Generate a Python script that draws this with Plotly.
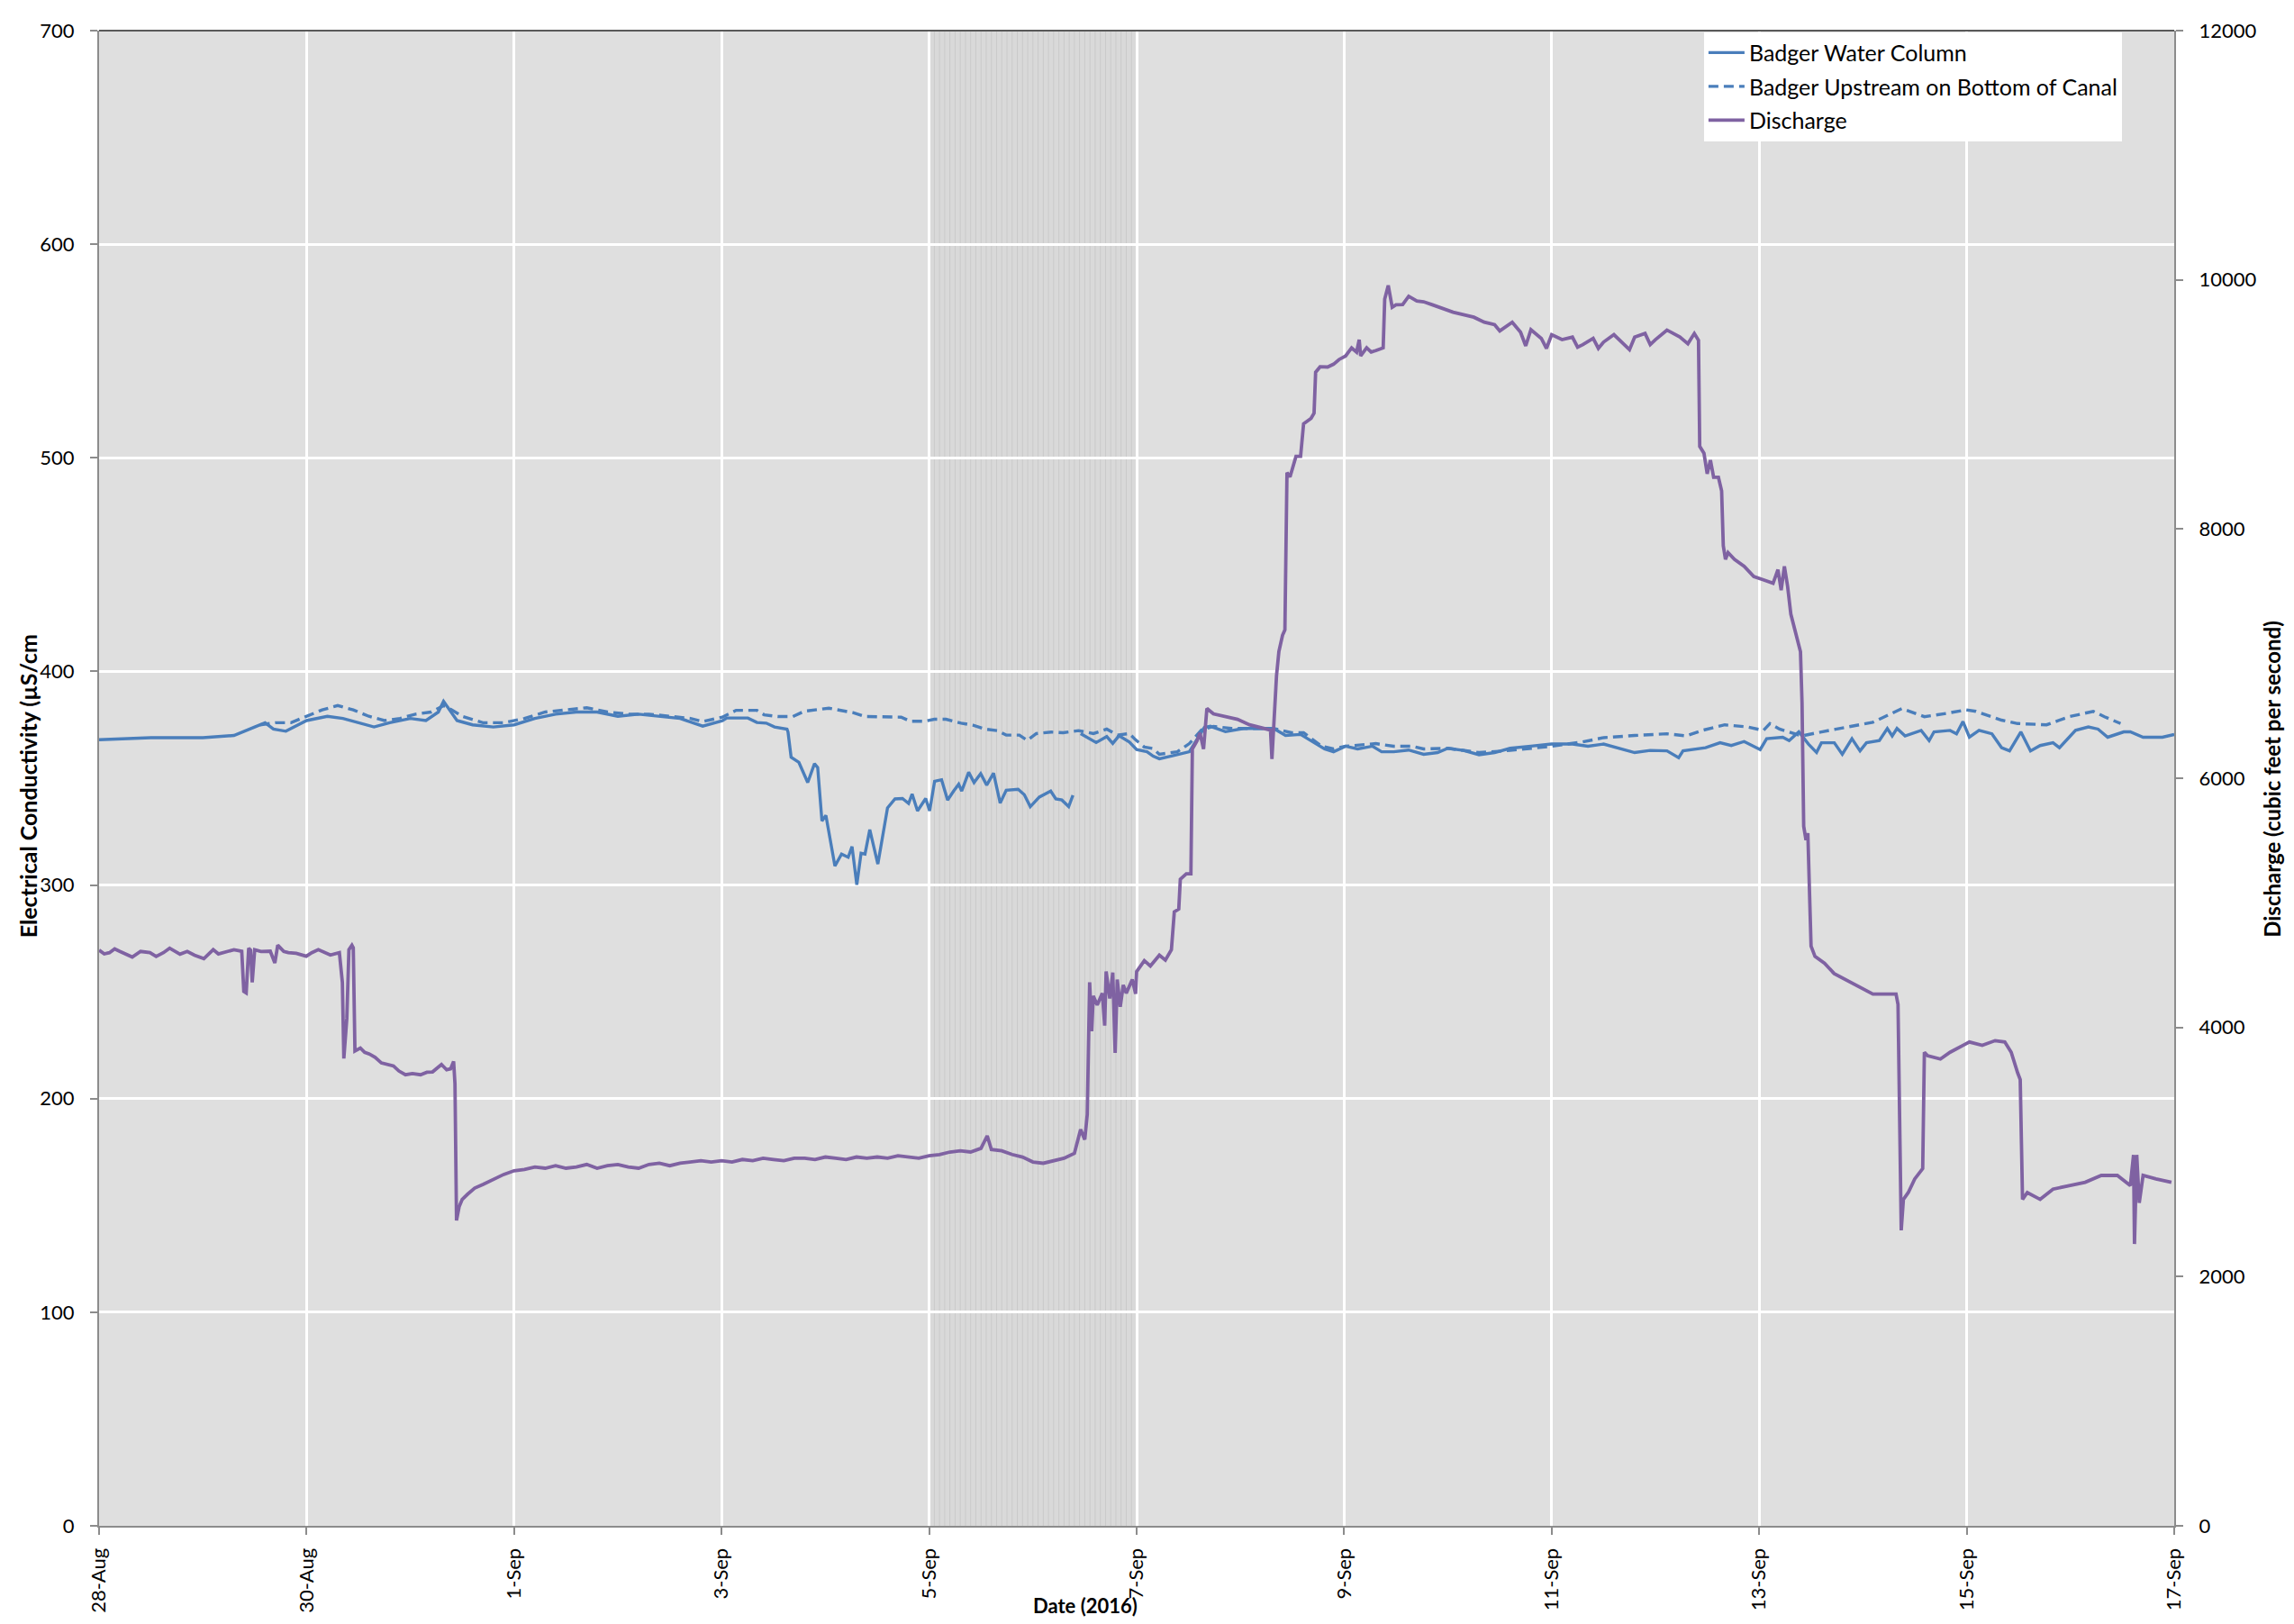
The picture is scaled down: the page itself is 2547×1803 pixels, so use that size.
import pandas as pd
import plotly.graph_objects as go

BASE = pd.Timestamp("2016-08-28")

# ---- Badger Water Column (solid), days after 28-Aug 00:00, EC in uS/cm ----
wc_days = [0.0, 0.5, 1.0, 1.3, 1.5, 1.6, 1.68, 1.8, 2.0, 2.2, 2.35, 2.5, 2.65, 2.8, 3.0, 3.15,
           3.27, 3.32, 3.38, 3.45, 3.6, 3.8, 4.0, 4.2, 4.4, 4.6, 4.8, 5.0, 5.2, 5.4, 5.6,
           5.818, 6.007, 6.05, 6.253, 6.34, 6.43, 6.51, 6.63, 6.64, 6.67, 6.745, 6.83, 6.895,
           6.926, 6.967, 7.005, 7.092, 7.156, 7.22, 7.257, 7.303, 7.344, 7.382, 7.428, 7.506,
           7.599, 7.671, 7.743, 7.802, 7.836, 7.888, 7.967, 8.005, 8.053, 8.12, 8.178, 8.236,
           8.285, 8.314, 8.381, 8.433, 8.497, 8.555, 8.621, 8.685, 8.743, 8.858, 8.917, 8.975,
           9.062, 9.172, 9.221, 9.279, 9.345, 9.386, 9.42,
           9.46, 9.61, 9.712, 9.77, 9.83, 9.93, 10.0, 10.1, 10.16, 10.219, 10.335, 10.508,
           10.653, 10.711, 10.856, 11.03, 11.32, 11.435, 11.58, 11.725, 11.811, 11.898, 12.014,
           12.13, 12.274, 12.361, 12.477, 12.621, 12.766, 12.9, 13.0, 13.15, 13.3, 13.45, 13.6,
           13.8, 14.0, 14.2, 14.35, 14.5, 14.65, 14.8, 14.95, 15.111, 15.224, 15.266, 15.483,
           15.623, 15.731, 15.855, 16.01, 16.072, 16.227, 16.289, 16.382, 16.475, 16.553, 16.6,
           16.724, 16.801, 16.894, 16.972, 17.034, 17.158, 17.235, 17.282, 17.328, 17.406,
           17.561, 17.638, 17.685, 17.84, 17.902, 17.964, 18.026, 18.119, 18.243, 18.336,
           18.413, 18.522, 18.615, 18.708, 18.832, 18.894, 19.049, 19.173, 19.266, 19.359,
           19.514, 19.577, 19.7, 19.886, 20.0]
wc_ec = [368, 369, 369, 370, 374, 376, 373, 372, 377, 379, 378, 376, 374, 376, 378, 377,
         381, 386, 382, 377, 375, 374, 375, 378, 380, 381, 381, 379, 380, 379, 378,
         374.4, 376.9, 378.2, 378.2, 376.1, 375.8, 374, 373, 371.6, 359.8, 357.4, 348, 356.8,
         355, 330, 332.6, 308.9, 314.5, 313, 318, 300.1, 314.9, 314.5, 325.9, 309.8,
         336.1, 340.3, 340.5, 338.2, 342.6, 334.7, 340.5, 334.7, 348.6, 349.3, 339.8, 344,
         347.2, 344, 352.8, 348, 352.1, 346.8, 352.4, 338.4, 344.4, 344.8, 342.3, 336.7,
         341.2, 344, 340.3, 339.8, 336.7, 342, None,
         370.9, 366.7, 369.5, 366.3, 369.9, 366.9, 363.4, 362.4, 360.3, 359.1, 360.4, 362.4,
         373.8, 374.3, 371.8, 373.3, 373.3, 370, 370.5, 366.2, 363.7, 362.4, 365,
         363.7, 365, 362.4, 362.4, 363.2, 361.2, 362, 364, 363, 361, 362, 364,
         365, 366, 366, 365, 366, 364, 362, 363, 362.8, 359.6, 362.8, 364.3,
         366.6, 365.3, 367.2, 363.4, 368.5, 369.2, 367.6, 371.7, 366, 362.1, 366.6,
         366.6, 361.2, 368.5, 362.8, 366.6, 367.6, 373.3, 369.8, 373.3, 369.8,
         372.4, 367.6, 371.7, 372.4, 370.8, 376.5, 369.2, 372.4, 370.8, 364.3,
         362.8, 371.7, 362.8, 365.3, 366.6, 364.3, 372.4, 374, 373, 369.2,
         371.7, 371.7, 369.2, 369.2, 370.5]

# ---- Badger Upstream on Bottom of Canal (dashed) ----
up_days = [1.55, 1.7, 1.85, 2.0, 2.15, 2.3, 2.45, 2.6, 2.75, 2.9, 3.05, 3.2, 3.32, 3.4, 3.5,
           3.7, 3.9, 4.1, 4.3, 4.5, 4.7, 4.9, 5.1, 5.3, 5.5, 5.7, 5.818, 6.007, 6.14, 6.34,
           6.41, 6.54, 6.687, 6.8, 7.034, 7.266, 7.382, 7.527, 7.73, 7.816, 7.96, 8.05, 8.163,
           8.308, 8.424, 8.54, 8.656, 8.743, 8.87, 8.946, 9.033, 9.177, 9.292, 9.44, 9.583,
           9.712, 9.815, 9.93, 9.987, 10.074, 10.16, 10.219, 10.392, 10.508, 10.624, 10.74,
           10.914, 11.32, 11.493, 11.609, 11.783, 11.898, 12.014, 12.304, 12.477, 12.65,
           12.766, 13.0, 13.3, 13.6, 14.0, 14.3, 14.5, 14.8, 15.111, 15.297, 15.452, 15.669,
           15.886, 16.041, 16.103, 16.196, 16.413, 16.6, 16.848, 17.096, 17.375, 17.592,
           17.809, 17.995, 18.088, 18.336, 18.491, 18.77, 18.987, 19.22, 19.328, 19.483]
up_ec = [375, 376, 376, 379, 382, 384, 382, 379, 377, 378, 380, 381, 384, 382, 379,
         376, 376, 378, 381, 382, 383, 381, 380, 380, 379, 378, 376.5, 378.6, 381.8, 381.8,
         379.7, 378.9, 378.9, 381.4, 382.8, 380.7, 378.9, 378.9, 378.6, 376.7, 376.7, 377.6, 377.6,
         375.8, 374.8, 373, 372.3, 370.2, 370.2, 367.7, 370.9, 371.6, 371.3, 372.3, 370.9,
         373, 370.2, 370.9, 368.1, 364.6, 363.9, 361.2, 362.4, 366.2, 372.6, 374.3,
         373.3, 373.3, 371.3, 371.3, 365, 363.7, 365, 366.2, 365, 365,
         363.7, 364, 362, 363, 365, 367, 369, 370, 370.8, 369.8, 372.4, 375,
         374, 372.4, 375.6, 373, 369.8, 371.7, 374, 376.2, 382.6, 378.8,
         380.4, 382, 381.3, 377.2, 375.6, 375, 378.8, 381.3, 378.8, 375.6]

# ---- Discharge (cubic feet per second) ----
q_days = [0.0, 0.05, 0.1, 0.15, 0.2, 0.25, 0.32, 0.4, 0.49, 0.55, 0.62, 0.68, 0.75, 0.78, 0.85,
          0.92, 1.01, 1.1, 1.15, 1.2, 1.3, 1.375, 1.395, 1.418, 1.442, 1.46, 1.476, 1.5, 1.56,
          1.65, 1.694, 1.722, 1.78, 1.824, 1.9, 1.997, 2.05, 2.113, 2.17, 2.229, 2.316, 2.345,
          2.359, 2.388, 2.408, 2.437, 2.45, 2.466, 2.518, 2.56, 2.605, 2.66, 2.721, 2.78, 2.837,
          2.89, 2.953, 3.02, 3.098, 3.16, 3.214, 3.3, 3.35, 3.388, 3.417, 3.43, 3.445, 3.47,
          3.5, 3.55, 3.62, 3.7, 3.8, 3.9, 4.0, 4.1, 4.2, 4.3, 4.4, 4.5, 4.6, 4.7, 4.8, 4.9,
          5.0, 5.1, 5.2, 5.3, 5.4, 5.5, 5.6, 5.7, 5.8, 5.9, 6.0, 6.1, 6.2, 6.3, 6.4, 6.5, 6.6,
          6.7, 6.8, 6.9, 7.0, 7.1, 7.2, 7.3, 7.4, 7.5, 7.6, 7.7, 7.8, 7.9, 8.0, 8.1, 8.2, 8.3,
          8.4, 8.5, 8.56, 8.6, 8.7, 8.8, 8.9, 9.0, 9.1, 9.2, 9.3, 9.4, 9.46, 9.5, 9.524, 9.547,
          9.567, 9.582, 9.62, 9.669, 9.692, 9.706, 9.741, 9.77, 9.793, 9.813, 9.842, 9.871,
          9.9, 9.958, 9.99, 10.0, 10.074, 10.132, 10.219, 10.277, 10.335, 10.363, 10.406,
          10.421, 10.479, 10.523, 10.537, 10.581, 10.61, 10.645, 10.677, 10.74, 10.856,
          10.972, 11.088, 11.203, 11.29, 11.304, 11.319, 11.348, 11.371, 11.406, 11.429,
          11.449, 11.478, 11.536, 11.58, 11.609, 11.681, 11.71, 11.725, 11.768, 11.84, 11.898,
          11.95, 12.014, 12.072, 12.12, 12.145, 12.159, 12.217, 12.26, 12.304, 12.376, 12.391,
          12.425, 12.463, 12.5, 12.564, 12.622, 12.7, 12.766, 12.85, 12.95, 13.05, 13.15,
          13.25, 13.35, 13.45, 13.5, 13.55, 13.62, 13.7, 13.75, 13.8, 13.9, 13.95, 14.0, 14.1,
          14.2, 14.25, 14.3, 14.4, 14.45, 14.5, 14.6, 14.7, 14.75, 14.8, 14.9, 14.95, 15.0,
          15.111, 15.235, 15.313, 15.375, 15.415, 15.427,
          15.468, 15.499, 15.53, 15.561, 15.607, 15.638, 15.654, 15.675, 15.7, 15.762, 15.855,
          15.948, 16.041, 16.134, 16.181, 16.212, 16.243, 16.274, 16.305, 16.336, 16.367,
          16.398, 16.413, 16.429, 16.451, 16.469, 16.482, 16.5, 16.538, 16.63, 16.723, 16.848,
          16.972, 17.096, 17.251, 17.319, 17.338, 17.369, 17.39, 17.437, 17.499, 17.576,
          17.592, 17.623, 17.747, 17.84, 17.964, 18.026, 18.15, 18.274, 18.367, 18.429,
          18.491, 18.516, 18.538, 18.584, 18.708, 18.832, 18.987, 19.142, 19.297, 19.452,
          19.577, 19.608, 19.617, 19.639, 19.663, 19.7, 19.825, 19.973]
q_cfs = [4620, 4590, 4600, 4630, 4610, 4590, 4565, 4610, 4600, 4570, 4600, 4636, 4600, 4588, 4610,
         4580, 4552, 4624, 4590, 4600, 4624, 4612, 4289, 4277, 4636, 4620, 4361, 4624, 4610,
         4612, 4517, 4660, 4610, 4600, 4595, 4571, 4600, 4624, 4600, 4581, 4600, 4361,
         3751, 4074, 4624, 4660, 4640, 3811, 3835, 3800, 3787, 3760, 3715, 3700, 3691,
         3650, 3620, 3630, 3620, 3640, 3643, 3703, 3660, 3667, 3727, 3548, 2451, 2560,
         2620, 2660, 2710, 2740, 2780, 2820, 2850, 2860, 2880, 2870, 2890, 2870, 2880, 2900, 2870, 2890,
         2900, 2880, 2870, 2900, 2910, 2890, 2910, 2920, 2930, 2920, 2930, 2920, 2940, 2930, 2950, 2940, 2930,
         2950, 2950, 2940, 2960, 2950, 2940, 2960, 2950, 2960, 2950, 2970, 2960, 2950, 2970, 2980, 3000, 3010,
         3000, 3030, 3130, 3020, 3010, 2980, 2960, 2920, 2910, 2930, 2950, 2990, 3180, 3100, 3300, 4362,
         3970, 4253, 4180, 4275, 4014, 4449, 4232, 4440, 3796, 4384, 4166, 4340,
         4275, 4384, 4270, 4449, 4536, 4493, 4580, 4540, 4623, 4928, 4950,
         5189, 5233, 5233, 6234, 6299, 6364, 6234, 6560, 6517, 6495,
         6473, 6429, 6407, 6386, 6155, 6407, 6821, 7017, 7147, 7191,
         8453, 8418, 8584, 8584, 8845, 8888, 8930, 9258, 9302, 9300, 9323,
         9360, 9389, 9454, 9420, 9519, 9389, 9454, 9420, 9432, 9454, 9846,
         9955, 9780, 9800, 9802, 9868, 9830, 9824, 9800, 9770, 9740, 9720,
         9700, 9660, 9640, 9590, 9620, 9660, 9580, 9470, 9600, 9530, 9450, 9560, 9520,
         9540, 9460, 9480, 9530, 9450, 9500, 9560, 9480, 9440, 9540, 9570, 9480, 9520,
         9597, 9542, 9487, 9569, 9515, 8663,
         8608, 8443, 8553, 8416, 8416, 8306, 7866, 7757, 7811, 7757, 7701,
         7619, 7592, 7564, 7674, 7510, 7700, 7540, 7317, 7207, 7097,
         7015, 6603, 5614, 5504, 5559, 5174, 4652, 4570, 4515, 4432, 4378,
         4323, 4268, 4268, 4268, 4185, 2372, 2620, 2675, 2784, 2867,
         3801, 3773, 3746, 3801, 3856, 3883, 3856, 3894, 3883, 3801,
         3636, 3581, 2620, 2675, 2620, 2702, 2730, 2757, 2812, 2812,
         2730, 2977, 2262, 2977, 2592, 2812, 2784, 2757]

shaded_period = ["2016-09-05", "2016-09-07"]

BLUE = "#4A7EBB"
PURPLE = "#7F62A2"
AXIS_GREY = "#8C8C8C"
FONT = "Lato, 'Noto Sans', sans-serif"


def to_dates(days):
    return [BASE + pd.Timedelta(days=d) for d in days]


fig = go.Figure()
fig.add_trace(go.Scatter(x=to_dates(wc_days), y=wc_ec, mode="lines",
                         name="Badger Water Column", legendgroup="a",
                         line=dict(color=BLUE, width=3.4), connectgaps=False))
fig.add_trace(go.Scatter(x=to_dates(up_days), y=up_ec, mode="lines",
                         name="Badger Upstream on Bottom of Canal", legendgroup="b",
                         line=dict(color=BLUE, width=3.4, dash="11px,6px")))
fig.add_trace(go.Scatter(x=to_dates(q_days), y=q_cfs, mode="lines", yaxis="y2",
                         name="Discharge", legendgroup="c",
                         line=dict(color=PURPLE, width=3.8)))

# subtle striped band (decoration of the plot area between 5-Sep and 7-Sep)
band_start = pd.Timestamp(shaded_period[0])
shapes = [dict(type="rect", xref="x", yref="paper", x0=shaded_period[0], x1=shaded_period[1],
               y0=0, y1=1, fillcolor="#d9d9d9", line=dict(width=0), layer="below")]
for i in range(1, 40):
    xs = band_start + pd.Timedelta(hours=1.2 * i)
    shapes.append(dict(type="line", xref="x", yref="paper", x0=xs, x1=xs, y0=0, y1=1,
                       line=dict(color="#cacaca", width=1), layer="below"))
shapes.append(dict(type="line", xref="paper", yref="paper", x0=0, x1=1, y0=1, y1=1,
                   line=dict(color="#595959", width=2), layer="above"))

fig.update_layout(
    width=2539, height=1795,
    margin=dict(l=102, r=133, t=15, b=109),
    paper_bgcolor="white", plot_bgcolor="#dfdfdf",
    font=dict(family=FONT, size=22, color="black"),
    showlegend=True,
    legend=dict(x=0.7734, y=0.999, xanchor="left", yanchor="top", bgcolor="white",
                font=dict(size=25), traceorder="grouped", tracegroupgap=2,
                itemwidth=40),
    xaxis=dict(type="date", range=[BASE, BASE + pd.Timedelta(days=20)],
               tick0=BASE, dtick=2 * 86400000, tickformat="%-d-%b", tickangle=-90,
               showgrid=True, gridcolor="white", gridwidth=3,
               ticks="outside", ticklen=8, tickcolor=AXIS_GREY, tickwidth=1.5,
               showline=True, linecolor=AXIS_GREY, linewidth=2, zeroline=False,
               ticklabelstandoff=6),
    yaxis=dict(range=[0, 700], dtick=100, showgrid=True, gridcolor="white", gridwidth=3,
               ticks="outside", ticklen=8, tickcolor=AXIS_GREY, tickwidth=1.5,
               showline=True, linecolor=AXIS_GREY, linewidth=2, zeroline=False,
               ticklabelstandoff=13),
    yaxis2=dict(range=[0, 12000], dtick=2000, overlaying="y", side="right",
                tickformat="d",
                showgrid=False, ticks="outside", ticklen=8, tickcolor=AXIS_GREY,
                tickwidth=1.5, showline=True, linecolor=AXIS_GREY, linewidth=2,
                zeroline=False, ticklabelstandoff=13),
    shapes=shapes,
    annotations=[
        dict(text="<b>Date (2016)</b>", xref="paper", yref="paper", x=0.4753, y=-0.0533,
             xanchor="center", yanchor="middle", showarrow=False, font=dict(size=22)),
        dict(text="<b>Electrical Conductivity (µS/cm</b>", xref="paper", yref="paper",
             x=-0.0343, y=0.4950, xanchor="center", yanchor="middle", textangle=-90,
             showarrow=False, font=dict(size=25)),
        dict(text="<b>Discharge (cubic feet per second)</b>", xref="paper", yref="paper",
             x=1.0473, y=0.4995, xanchor="center", yanchor="middle", textangle=-90,
             showarrow=False, font=dict(size=24)),
    ],
)

fig.write_html("out.html")
